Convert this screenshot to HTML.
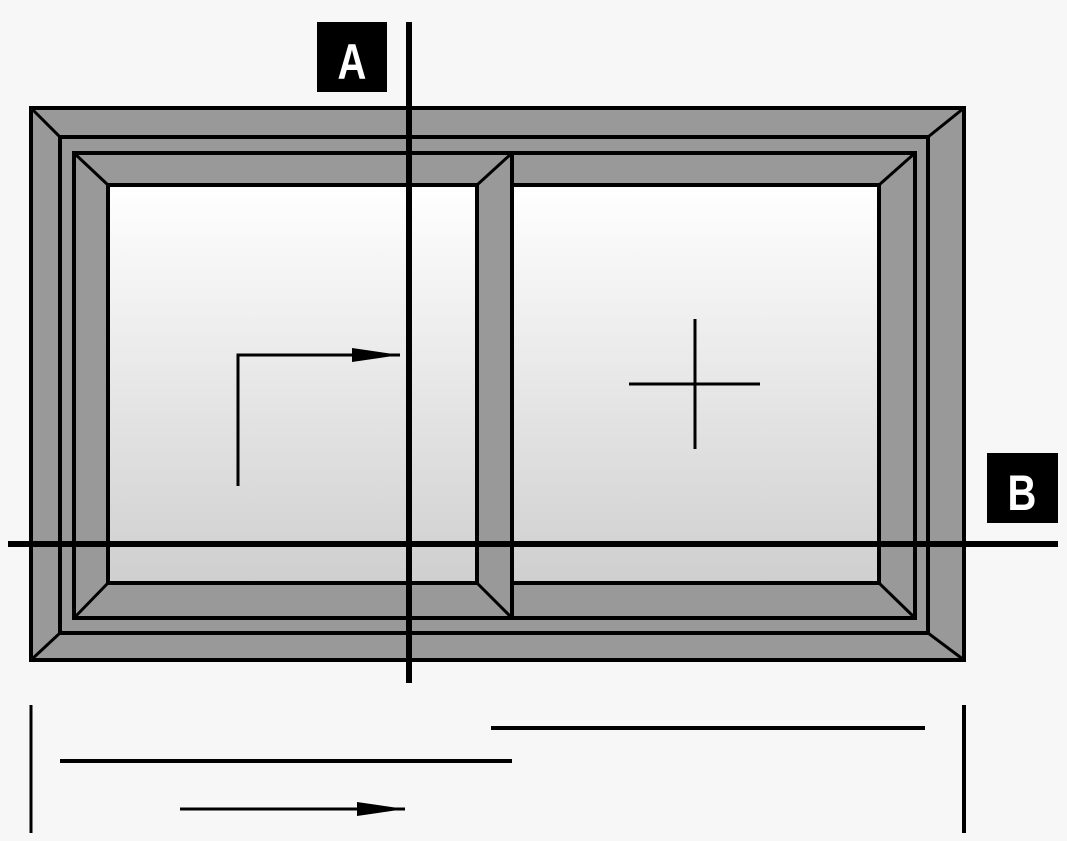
<!DOCTYPE html>
<html><head><style>
body{margin:0;background:#f7f7f7;}
svg{display:block}
text{font-family:"Liberation Sans",sans-serif;font-weight:bold;fill:#fff}
</style></head><body>
<svg width="1067" height="841" viewBox="0 0 1067 841">
<defs>
<linearGradient id="g" x1="0" y1="0" x2="0" y2="1">
<stop offset="0" stop-color="#ffffff"/><stop offset="1" stop-color="#cfcfcf"/>
</linearGradient>
<marker id="ah" markerWidth="48" markerHeight="20" refX="48" refY="10" orient="auto" markerUnits="userSpaceOnUse">
<path d="M0,3 L48,10 L0,17 Z" fill="#000"/>
</marker>
</defs>
<g stroke="#000" stroke-width="4" fill="#999">
<rect x="31" y="108" width="933" height="552"/>
<rect x="60" y="137" width="868" height="496"/>
<rect x="74" y="153" width="841" height="465"/>
<line x1="31" y1="108" x2="60" y2="137" stroke-width="3"/>
<line x1="964" y1="108" x2="928" y2="137" stroke-width="3"/>
<line x1="31" y1="660" x2="60" y2="633" stroke-width="3"/>
<line x1="964" y1="660" x2="928" y2="633" stroke-width="3"/>
<rect x="108" y="185" width="369" height="398" fill="url(#g)"/>
<rect x="512" y="185" width="367" height="398" fill="url(#g)"/>
<line x1="512" y1="153" x2="512" y2="618"/>
<g stroke-width="3">
<line x1="74" y1="153" x2="108" y2="185"/>
<line x1="74" y1="618" x2="108" y2="583"/>
<line x1="512" y1="153" x2="477" y2="185"/>
<line x1="512" y1="618" x2="477" y2="583"/>
<line x1="915" y1="153" x2="879" y2="185"/>
<line x1="915" y1="618" x2="879" y2="583"/>
</g>
</g>
<g stroke="#000" fill="none">
<line x1="409" y1="22" x2="409" y2="683" stroke-width="6"/>
<line x1="8" y1="544" x2="1058" y2="544" stroke-width="6"/>
<polyline points="238,486 238,355 400,355" stroke-width="3" marker-end="url(#ah)"/>
<line x1="629" y1="384" x2="760" y2="384" stroke-width="3"/>
<line x1="695" y1="319" x2="695" y2="449" stroke-width="3"/>
<line x1="31" y1="705" x2="31" y2="833" stroke-width="3"/>
<line x1="964" y1="705" x2="964" y2="833" stroke-width="4"/>
<line x1="491" y1="728" x2="925" y2="728" stroke-width="4"/>
<line x1="60" y1="761" x2="512" y2="761" stroke-width="4"/>
<line x1="180" y1="809" x2="405" y2="809" stroke-width="3" marker-end="url(#ah)"/>
</g>
<rect x="317" y="22" width="70" height="70" fill="#000"/>
<text x="352" y="79" font-size="50" text-anchor="middle" transform="translate(352 0) scale(0.8 1) translate(-352 0)">A</text>
<rect x="987" y="453" width="71" height="70" fill="#000"/>
<text x="1022" y="510" font-size="50" text-anchor="middle" transform="translate(1022 0) scale(0.8 1) translate(-1022 0)">B</text>
</svg>
</body></html>
